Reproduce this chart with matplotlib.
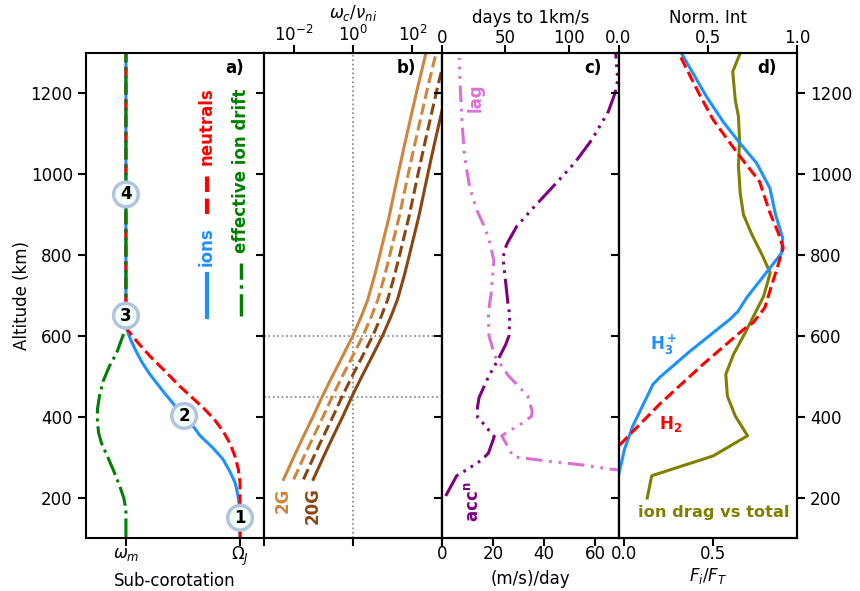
import numpy as np
import matplotlib
matplotlib.use('Agg')
import matplotlib.pyplot as plt

plt.rcParams['font.size'] = 12
plt.rcParams['axes.linewidth'] = 1.5
plt.rcParams['xtick.major.width'] = 1.5
plt.rcParams['ytick.major.width'] = 1.5
plt.rcParams['xtick.major.size'] = 6
plt.rcParams['ytick.major.size'] = 6

# panel a, sub-corotation (0 = omega_m, 1 = Omega_J)
ion_alt = [100, 160, 189, 215, 238, 265, 295, 325, 353, 380, 402, 427, 465, 505, 535, 567, 595, 624, 1300]
ion_val = [1.0, 1.0, 0.99, 0.975, 0.955, 0.91, 0.85, 0.755, 0.65, 0.58, 0.51, 0.43, 0.32, 0.21, 0.14, 0.08, 0.035, 0.0, 0.0]
neu_alt = [100, 238, 270, 303, 335, 365, 395, 423, 450, 476, 515, 550, 585, 620, 1300]
neu_val = [1.0, 1.0, 0.985, 0.955, 0.91, 0.85, 0.77, 0.675, 0.57, 0.47, 0.335, 0.21, 0.1, 0.0, 0.0]
drift_alt = [100, 171, 200, 229, 268, 307, 335, 361, 390, 418, 455, 488, 525, 559, 590, 620, 1300]
drift_val = [0.0, 0.0, -0.02, -0.055, -0.11, -0.17, -0.215, -0.24, -0.25, -0.25, -0.23, -0.2, -0.145, -0.08, -0.04, 0.0, 0.0]
point_labels = ['1', '2', '3', '4']
point_x = [1.0, 0.51, 0.0, 0.0]
point_alt = [150, 402, 650, 950]

# panel b, log10(omega_c/nu_ni)
ratio_alt = [245, 300, 350, 400, 451, 500, 550, 601, 650, 690, 750, 800, 896, 1000, 1077, 1209, 1300]
ratio_2g = [-2.34, -2.0, -1.68, -1.35, -1.03, -0.7, -0.35, 0.0, 0.29, 0.5, 0.73, 0.9, 1.22, 1.52, 1.75, 2.16, 2.46]
ratio_5g = [-2.0, -1.66, -1.34, -1.01, -0.69, -0.36, -0.01, 0.34, 0.63, 0.84, 1.07, 1.24, 1.56, 1.86, 2.09, 2.5, 2.8]
ratio_10g = [-1.67, -1.33, -1.01, -0.68, -0.36, -0.03, 0.32, 0.67, 0.96, 1.17, 1.4, 1.57, 1.89, 2.19, 2.42, 2.83, 3.13]
ratio_20g = [-1.34, -1.0, -0.68, -0.35, -0.03, 0.3, 0.65, 1.0, 1.29, 1.5, 1.73, 1.9, 2.22, 2.52, 2.75, 3.16, 3.46]

# panel c
acc_alt = [204, 254, 269, 293, 310, 351, 363, 381, 398, 423, 447, 499, 538, 579, 601, 641, 661, 683,
           707, 789, 811, 832, 871, 917, 966, 1028, 1085, 1155, 1200, 1233, 1266, 1300]
acc_val = [1.45, 5.75, 9.7, 15.6, 18.2, 20.5, 18.8, 16.5, 14, 13.9, 14.5, 18.2, 21.7, 25, 26.3, 26.5, 26.3, 25.8,
           25.4, 24, 24.4, 25.8, 29.3, 35.8, 43, 52, 58.7, 65.2, 67.8, 68.9, 68.5, 68.1]
lag_alt = [267, 270, 280, 289, 301, 332, 353, 387, 402, 414, 451, 469, 502, 550, 600, 657, 680,
           702, 785, 830, 867, 912, 966, 1011, 1052, 1118, 1176, 1225, 1288]
lag_val = [145, 133.6, 112.6, 86.4, 56.1, 50.9, 47, 64.8, 70.6, 71, 67.5, 62.2, 52.2, 41.7, 37, 36.5, 37.5,
           38.6, 40.9, 37.8, 33.9, 27.3, 22, 19.4, 17.6, 16, 15, 14.2, 13.6]

# panel d
h3_alt = [254, 320, 377, 480, 497, 562, 641, 661, 694, 752, 805, 842, 900, 966, 1028, 1077, 1130, 1192, 1300]
h3_val = [0.0, 0.034, 0.08, 0.193, 0.23, 0.4, 0.624, 0.67, 0.717, 0.82, 0.914, 0.92, 0.88, 0.848, 0.773, 0.68, 0.586, 0.493, 0.352]
h2_alt = [330, 431, 530, 616, 633, 670, 698, 764, 818, 855, 905, 982, 1056, 1135, 1196, 1300]
h2_val = [0.006, 0.23, 0.474, 0.7, 0.755, 0.82, 0.839, 0.886, 0.923, 0.895, 0.848, 0.79, 0.66, 0.53, 0.455, 0.337]
frac_alt = [199, 254, 303, 353, 402, 451, 505, 554, 608, 665, 698, 756, 801, 851, 900, 953, 1019, 1085, 1143, 1184, 1254, 1300]
frac_val = [0.131, 0.156, 0.5, 0.693, 0.624, 0.58, 0.571, 0.614, 0.68, 0.745, 0.783, 0.82, 0.774, 0.717, 0.67, 0.652, 0.642, 0.648, 0.642, 0.624, 0.61, 0.652]

LW = 2.2
dash_lag = (0, (5.4, 2.2, 0.9, 2.2, 0.9, 2.2))
dash_acc = (0, (8.2, 1.9, 0.9, 1.9, 0.9, 1.9, 0.9, 1.9))

fig = plt.figure(figsize=(8.6, 5.91), dpi=100)
W, H = 860.0, 591.0
def panel(x0, x1):
    return fig.add_axes([x0 / W, 1 - 538 / H, (x1 - x0) / W, 485 / H])

def tag(ax, xf, s):
    ax.text(xf, 0.969, s, transform=ax.transAxes, ha='center', va='center', fontweight='bold', fontsize=12)

a = panel(86, 264)
b = panel(264, 442)
c = panel(442, 618.5)
d = panel(618.5, 797)
for ax in (a, b, c, d):
    ax.set_ylim(100, 1300)
    ax.set_yticks([200, 400, 600, 800, 1000, 1200])
    if ax is not a:
        ax.set_yticklabels([])
    ax.tick_params(axis='x', pad=-1)

# a)
a.plot(ion_val, ion_alt, color='dodgerblue', lw=LW)
a.plot(neu_val, neu_alt, color='red', lw=LW, ls='--')
a.plot(drift_val, drift_alt, color='green', lw=LW, ls='-.')
a.set_xlim(-0.35, 1.21)
a.set_xticks([0, 1])
a.set_xticklabels([r'$\omega_m$', r'$\Omega_J$'])
a.set_xlabel('Sub-corotation', labelpad=3)
a.set_ylabel('Altitude (km)', labelpad=0)
for lab, xp, yp in zip(point_labels, point_x, point_alt):
    a.text(xp, yp, lab, ha='center', va='center', fontweight='bold', fontsize=12, zorder=5,
           bbox=dict(boxstyle='circle,pad=0.2', fc='mintcream', ec='lightsteelblue', lw=2.5))
a.plot([0.71, 0.71], [648, 754], color='dodgerblue', lw=3)
a.plot([0.71, 0.71], [902, 1001], color='red', lw=3, ls='--')
a.plot([1.01, 1.01], [650, 781], color='green', lw=2.5, ls='-.')
a.text(0.71, 772, 'ions', color='dodgerblue', rotation=90, ha='center', va='bottom', fontweight='bold', fontsize=12)
a.text(0.71, 1023, 'neutrals', color='red', rotation=90, ha='center', va='bottom', fontweight='bold', fontsize=12)
a.text(1.01, 806, 'effective ion drift', color='green', rotation=90, ha='center', va='bottom', fontweight='bold', fontsize=12)
tag(a, 0.837, 'a)')

# b)
b.set_xscale('log')
b.set_xlim(1e-3, 1e3)
b.axvline(1, color='gray', ls=':', lw=1.2)
b.axhline(600, color='gray', ls=':', lw=1.2)
b.axhline(450, color='gray', ls=':', lw=1.2)
b.plot(10.0 ** np.array(ratio_2g), ratio_alt, color='peru', lw=LW)
b.plot(10.0 ** np.array(ratio_5g), ratio_alt, color='peru', lw=LW, ls='--')
b.plot(10.0 ** np.array(ratio_10g), ratio_alt, color='saddlebrown', lw=LW, ls='--')
b.plot(10.0 ** np.array(ratio_20g), ratio_alt, color='saddlebrown', lw=LW)
b.set_xticks([1e-3, 1, 1e3])
b.set_xticklabels([])
b.minorticks_off()
b2 = b.twiny()
b2.set_xscale('log')
b2.set_xlim(1e-3, 1e3)
b2.set_xticks([1e-2, 1, 1e2])
b2.minorticks_off()
b2.tick_params(axis='x', pad=0)
b2.set_xlabel(r'$\omega_c/\nu_{ni}$', labelpad=5)
b.text(0.107, 225, '2G', color='peru', rotation=90, ha='center', va='top', fontweight='bold', fontsize=12, transform=b.get_yaxis_transform())
b.text(0.275, 225, '20G', color='saddlebrown', rotation=90, ha='center', va='top', fontweight='bold', fontsize=12, transform=b.get_yaxis_transform())
tag(b, 0.80, 'b)')

# c)
c.plot(acc_val, acc_alt, color='purple', lw=LW, ls=dash_acc)
c.set_xlim(0, 69.2)
c.set_xticks([0, 20, 40, 60])
c.set_xlabel('(m/s)/day', labelpad=5)
c2 = c.twiny()
c2.plot(lag_val, lag_alt, color='orchid', lw=LW, ls=dash_lag)
c2.set_xlim(0, 139)
c2.set_xticks([0, 50, 100])
c2.tick_params(axis='x', pad=-1.6)
c2.set_xlabel('days to 1km/s', labelpad=4.5)
c.text(0.19, 1154, 'lag', color='orchid', rotation=90, ha='center', va='bottom', fontweight='bold', fontsize=12, transform=c.get_yaxis_transform())
c.text(0.175, 140, 'acc$^{\\mathbf{n}}$', color='purple', rotation=90, ha='center', va='bottom', fontweight='bold', fontsize=12, transform=c.get_yaxis_transform())
tag(c, 0.855, 'c)')

# d)
d.plot(frac_val, frac_alt, color='olive', lw=LW)
d.set_xlim(-0.03, 0.97)
d.set_xticks([0, 0.5])
d.set_xticklabels(['0.0', '0.5'])
d.set_xlabel(r'$F_i/F_T$', labelpad=2)
d.yaxis.tick_right()
d.set_yticks([200, 400, 600, 800, 1000, 1200])
d.set_yticklabels(['200', '400', '600', '800', '1000', '1200'])
d2 = d.twiny()
d2.plot(h3_val, h3_alt, color='dodgerblue', lw=LW)
d2.plot(h2_val, h2_alt, color='red', lw=LW, ls='--')
d2.set_xlim(0, 1)
d2.set_xticks([0, 0.5, 1])
d2.tick_params(axis='x', pad=-1.6)
d2.set_xlabel('Norm. Int', labelpad=4.5)
d.tick_params(axis='y', left=True, right=True)
d.text(0.25, 0.398, r'$\mathbf{H_3^+}$', transform=d.transAxes, color='dodgerblue', ha='center', va='center', fontsize=12)
d.text(0.29, 0.235, r'$\mathbf{H_2}$', transform=d.transAxes, color='red', ha='center', va='center', fontsize=12)
d.text(0.532, 0.052, 'ion drag vs total', transform=d.transAxes, color='olive', ha='center', va='center', fontweight='bold', fontsize=11.7)
tag(d, 0.83, 'd)')

fig.savefig('out.png', dpi=100)
